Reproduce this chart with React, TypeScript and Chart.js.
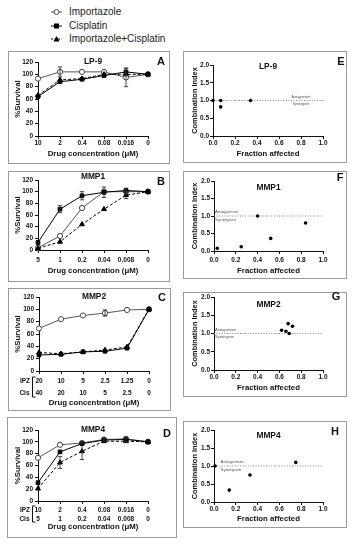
import React, { useEffect, useRef } from 'react';
import { Chart, registerables } from 'chart.js';
Chart.register(...registerables);

const FONT = '"Liberation Sans", Arial, Helvetica, sans-serif';

// ---------- DATA ----------
// Panel A: LP-9
const concA = ['10', '2', '0.4', '0.08', '0.016', '0'];
const ipzA = [93, 104, 104, 104, 95, 100];
const ipzErrA = [0, 8, 0, 0, 15, 0];
const cisA = [64, 88, 92, 98, 104, 100];
const cisErrA = [0, 0, 0, 0, 6, 0];
const comboA = [66, 91, 93, 100, 100, 100];
const comboErrA = [0, 0, 0, 0, 0, 0];

// Panel B: MMP1
const concB = ['5', '1', '0.2', '0.04', '0.008', '0'];
const ipzB = [4, 24, 72, 100, 100, 100];
const ipzErrB = [0, 0, 0, 0, 0, 0];
const cisB = [13, 70, 93, 99, 102, 100];
const cisErrB = [0, 6, 7, 9, 4, 0];
const comboB = [3, 14, 44, 70, 94, 100];
const comboErrB = [0, 0, 0, 0, 6, 0];

// Panel C: MMP2
const ipzConcC = ['20', '10', '5', '2.5', '1.25', '0'];
const cisConcC = ['40', '20', '10', '5', '2.5', '0'];
const ipzC = [69, 84, 90, 94, 99, 100];
const ipzErrC = [0, 0, 0, 5, 0, 0];
const cisC = [26, 27, 31, 32, 37, 100];
const cisErrC = [0, 0, 0, 0, 0, 0];
const comboC = [30, 28, 31, 34, 39, 100];
const comboErrC = [0, 0, 0, 0, 0, 0];

// Panel D: MMP4
const ipzConcD = ['10', '2', '0.4', '0.08', '0.016', '0'];
const cisConcD = ['5', '1', '0.2', '0.04', '0.008', '0'];
const ipzD = [73, 95, 98, 104, 105, 100];
const ipzErrD = [0, 0, 0, 3, 0, 0];
const cisD = [31, 83, 97, 103, 104, 100];
const cisErrD = [0, 0, 0, 0, 4, 0];
const comboD = [21, 65, 84, 101, 101, 100];
const comboErrD = [0, 10, 14, 0, 0, 0];

// Combination index panels (fraction affected, CI)
const faE = [0.0, 0.07, 0.07, 0.34];
const ciE = [1.0, 1.0, 0.82, 1.0];
const faF = [0.03, 0.25, 0.4, 0.52, 0.84];
const ciF = [0.08, 0.12, 1.0, 0.36, 0.8];
const faG = [0.62, 0.66, 0.68, 0.69, 0.72];
const ciG = [1.09, 1.06, 1.27, 1.0, 1.2];
const faH = [0.01, 0.14, 0.33, 0.75];
const ciH = [1.0, 0.33, 0.75, 1.1];

const survivalTicks = [0, 20, 40, 60, 80, 100, 120];
const ciTicks = [0, 0.5, 1.0, 1.5, 2.0];
const faTicks = [0, 0.2, 0.4, 0.6, 0.8, 1.0];

const legendNames = ['Importazole', 'Cisplatin', 'Importazole+Cisplatin'];

// ---------- LAYOUT ----------
type Rect = { l: number; t: number; w: number; h: number };
type Plot = { l: number; r: number; t: number; b: number };
type PanelCfg = {
  kind: 'line' | 'ci';
  box: Rect;
  plot: Plot;
  tickY: number;
  tickLH: number;
  titleY: number;
  yTitleX: number;
  title: string;
  titleAt: number;
  letter: string;
  letterAt: [number, number];
  build: () => any;
  rows?: boolean;
  rowGap?: number;
  bracket?: [number, number];
  ant?: { x: number; align: 'left' | 'center'; size: number };
};

const errorBars = {
  id: 'errorBars',
  afterDatasetsDraw(chart: any) {
    const ctx = chart.ctx;
    const ys = chart.scales.y;
    chart.data.datasets.forEach((ds: any, i: number) => {
      if (!ds.errors) return;
      const meta = chart.getDatasetMeta(i);
      meta.data.forEach((pt: any, j: number) => {
        const e = ds.errors[j];
        if (!e) return;
        const v = ds.data[j];
        const x = pt.x;
        const y1 = ys.getPixelForValue(v + e);
        const y2 = ys.getPixelForValue(v - e);
        ctx.save();
        ctx.strokeStyle = '#333';
        ctx.lineWidth = 0.9;
        ctx.beginPath();
        ctx.moveTo(x, y1); ctx.lineTo(x, y2);
        ctx.moveTo(x - 2.2, y1); ctx.lineTo(x + 2.2, y1);
        ctx.moveTo(x - 2.2, y2); ctx.lineTo(x + 2.2, y2);
        ctx.stroke();
        ctx.restore();
      });
    });
  },
};

function lineSets(ipz: number[], ipzE: number[], cis: number[], cisE: number[], combo: number[], comboE: number[]) {
  return [
    {
      label: legendNames[1], data: cis, errors: cisE, clip: false,
      borderColor: '#000', borderWidth: 1, pointStyle: 'rect', pointRadius: 2.6,
      pointBackgroundColor: '#000', pointBorderColor: '#000', pointBorderWidth: 1,
    },
    {
      label: legendNames[2], data: combo, errors: comboE, clip: false,
      borderColor: '#000', borderWidth: 1, borderDash: [3, 2], pointStyle: 'triangle', pointRadius: 2.8,
      pointBackgroundColor: '#000', pointBorderColor: '#000', pointBorderWidth: 1,
    },
    {
      label: legendNames[0], data: ipz, errors: ipzE, clip: false,
      borderColor: '#555', borderWidth: 1, pointStyle: 'circle', pointRadius: 2.6,
      pointBackgroundColor: '#fff', pointBorderColor: '#444', pointBorderWidth: 1,
    },
  ];
}

function ciSets(fa: number[], ci: number[]) {
  return [
    {
      label: 'CI', data: fa.map((x, i) => ({ x, y: ci[i] })), clip: false,
      showLine: false, pointRadius: 1.8, pointBackgroundColor: '#000', pointBorderColor: '#000', pointBorderWidth: 0,
    },
    {
      label: 'ref', data: [{ x: 0, y: 1 }, { x: 1, y: 1 }], clip: false,
      showLine: true, borderColor: '#777', borderWidth: 0.9, borderDash: [1, 1.6], pointRadius: 0,
    },
  ];
}

const panels: PanelCfg[] = [
  {
    kind: 'line', box: { l: 8, t: 51, w: 162, h: 113 }, plot: { l: 38, r: 148, t: 62, b: 136 },
    tickY: 143, tickLH: 1.2, titleY: 154, yTitleX: 18, title: 'LP-9', titleAt: 62, letter: 'A', letterAt: [161, 62],
    build: () => ({ labels: concA, datasets: lineSets(ipzA, ipzErrA, cisA, cisErrA, comboA, comboErrA) }),
  },
  {
    kind: 'line', box: { l: 8, t: 171, w: 162, h: 111 }, plot: { l: 38, r: 148, t: 180, b: 250 },
    tickY: 260, tickLH: 1.2, titleY: 271, yTitleX: 18, title: 'MMP1', titleAt: 177, letter: 'B', letterAt: [161, 182],
    build: () => ({ labels: concB, datasets: lineSets(ipzB, ipzErrB, cisB, cisErrB, comboB, comboErrB) }),
  },
  {
    kind: 'line', box: { l: 8, t: 288, w: 163, h: 123 }, plot: { l: 39, r: 149, t: 297, b: 371 },
    tickY: 381, tickLH: 1.85, titleY: 403, yTitleX: 18, title: 'MMP2', titleAt: 297, letter: 'C', letterAt: [162, 298],
    rows: true, rowGap: 12, bracket: [377, 397],
    build: () => ({ labels: ipzConcC.map((v, i) => [v, cisConcC[i]]), datasets: lineSets(ipzC, ipzErrC, cisC, cisErrC, comboC, comboErrC) }),
  },
  {
    kind: 'line', box: { l: 7, t: 417, w: 170, h: 121 }, plot: { l: 38, r: 148, t: 430, b: 501 },
    tickY: 510, tickLH: 1.35, titleY: 527, yTitleX: 18, title: 'MMP4', titleAt: 430, letter: 'D', letterAt: [167, 434],
    rows: true, rowGap: 8.8, bracket: [506, 522],
    build: () => ({ labels: ipzConcD.map((v, i) => [v, cisConcD[i]]), datasets: lineSets(ipzD, ipzErrD, cisD, cisErrD, comboD, comboErrD) }),
  },
  {
    kind: 'ci', box: { l: 183, t: 51, w: 164, h: 112 }, plot: { l: 213, r: 323, t: 65, b: 136 },
    tickY: 143, tickLH: 1.2, titleY: 154, yTitleX: 195, title: 'LP-9', titleAt: 67, letter: 'E', letterAt: [341, 62],
    ant: { x: 0.8, align: 'center', size: 3.6 },
    build: () => ({ datasets: ciSets(faE, ciE) }),
  },
  {
    kind: 'ci', box: { l: 183, t: 171, w: 164, h: 108 }, plot: { l: 214, r: 323, t: 181, b: 251 },
    tickY: 260, tickLH: 1.2, titleY: 271, yTitleX: 195, title: 'MMP1', titleAt: 188, letter: 'F', letterAt: [340, 178],
    ant: { x: 0.01, align: 'left', size: 4.4 },
    build: () => ({ datasets: ciSets(faF, ciF) }),
  },
  {
    kind: 'ci', box: { l: 183, t: 292, w: 164, h: 105 }, plot: { l: 214, r: 323, t: 297, b: 370 },
    tickY: 377, tickLH: 1.2, titleY: 388, yTitleX: 195, title: 'MMP2', titleAt: 305, letter: 'G', letterAt: [336, 297],
    ant: { x: 0.01, align: 'left', size: 4 },
    build: () => ({ datasets: ciSets(faG, ciG) }),
  },
  {
    kind: 'ci', box: { l: 183, t: 421, w: 164, h: 107 }, plot: { l: 214, r: 323, t: 430, b: 502 },
    tickY: 509, tickLH: 1.2, titleY: 519, yTitleX: 195, title: 'MMP4', titleAt: 436, letter: 'H', letterAt: [335, 432],
    ant: { x: 0.06, align: 'left', size: 4.4 },
    build: () => ({ datasets: ciSets(faH, ciH) }),
  },
];

const TICK_FS = 6.5;
const TITLE_FS = 7.8;
const TL = 3;

function decor(p: PanelCfg) {
  return {
    id: 'decor',
    afterDraw(chart: any) {
      const ctx = chart.ctx;
      const ca = chart.chartArea;
      ctx.save();
      ctx.fillStyle = '#111';
      ctx.textBaseline = 'middle';
      ctx.textAlign = 'center';
      ctx.font = `bold 8.4px ${FONT}`;
      ctx.fillText(p.title, (ca.left + ca.right) / 2, p.titleAt - p.box.t);
      ctx.font = `bold 11px ${FONT}`;
      ctx.fillText(p.letter, p.letterAt[0] - p.box.l, p.letterAt[1] - p.box.t);
      if (p.rows && p.bracket && p.rowGap) {
        ctx.font = `bold ${TICK_FS}px ${FONT}`;
        ctx.textAlign = 'right';
        const y1 = p.tickY - p.box.t;
        ctx.fillText('IPZ', 30 - p.box.l, y1);
        ctx.fillText('Cis', 29.5 - p.box.l, y1 + p.rowGap);
        ctx.strokeStyle = '#111';
        ctx.lineWidth = 1;
        const bx = 32.5 - p.box.l;
        ctx.beginPath();
        ctx.moveTo(bx + 3, p.bracket[0] - p.box.t);
        ctx.lineTo(bx, p.bracket[0] - p.box.t);
        ctx.lineTo(bx, p.bracket[1] - p.box.t);
        ctx.lineTo(bx + 3, p.bracket[1] - p.box.t);
        ctx.stroke();
      }
      if (p.ant) {
        const xs = chart.scales.x;
        const ys = chart.scales.y;
        const x = xs.getPixelForValue(p.ant.x);
        const y = ys.getPixelForValue(1);
        ctx.fillStyle = '#555';
        ctx.font = `${p.ant.size}px ${FONT}`;
        ctx.textAlign = p.ant.align;
        ctx.fillText('Antagonism', x, y - p.ant.size * 0.85);
        ctx.fillText('Synergism', x, y + p.ant.size * 0.85);
      }
      ctx.restore();
    },
  };
}

function axisCommon() {
  return {
    grid: { display: true, drawOnChartArea: false, drawTicks: true, tickLength: TL, color: '#111', lineWidth: 1 },
    border: { display: true, color: '#111', width: 1 },
  };
}

function buildConfig(p: PanelCfg) {
  const padTop = p.plot.t - p.box.t;
  const padRight = p.box.l + p.box.w - p.plot.r;
  const yWidth = p.plot.l - p.box.l;
  const xHeight = p.box.t + p.box.h - p.plot.b;
  const tickLHpx = TICK_FS * p.tickLH;
  const xTickPad = p.tickY - p.plot.b - TL - tickLHpx / 2;
  const titleLH = TITLE_FS * 1.2;
  const xTitlePadBottom = p.box.t + p.box.h - p.titleY - titleLH / 2;
  const yTitlePadTop = p.yTitleX - p.box.l - titleLH / 2;
  const tickFont = { family: FONT, size: TICK_FS, weight: 'bold' as const, lineHeight: p.tickLH };
  const titleFont = { family: FONT, size: TITLE_FS, weight: 'bold' as const, lineHeight: 1.2 };
  const isLine = p.kind === 'line';

  const xScale: any = {
    ...axisCommon(),
    afterFit: (s: any) => { s.height = xHeight; },
    ticks: {
      color: '#111', font: tickFont, padding: xTickPad, autoSkip: false, maxRotation: 0, minRotation: 0,
    },
    title: {
      display: true, text: isLine ? 'Drug concentration (μM)' : 'Fraction affected', color: '#111',
      font: titleFont, padding: { top: 0, bottom: xTitlePadBottom },
    },
  };
  if (isLine) {
    xScale.type = 'category';
    xScale.offset = false;
  } else {
    xScale.type = 'linear';
    xScale.min = faTicks[0];
    xScale.max = faTicks[faTicks.length - 1];
    xScale.afterBuildTicks = (s: any) => { s.ticks = faTicks.map((v) => ({ value: v })); };
    xScale.ticks.callback = (v: any) => Number(v).toFixed(1);
  }
  const yTicks = isLine ? survivalTicks : ciTicks;
  const yScale: any = {
    ...axisCommon(),
    type: 'linear',
    min: yTicks[0],
    max: yTicks[yTicks.length - 1],
    afterFit: (s: any) => { s.width = yWidth; },
    afterBuildTicks: (s: any) => { s.ticks = yTicks.map((v) => ({ value: v })); },
    ticks: {
      color: '#111', font: { family: FONT, size: TICK_FS, weight: 'bold' as const }, padding: isLine ? 2 : 1,
      callback: (v: any) => (isLine ? String(v) : Number(v).toFixed(1)),
    },
    title: {
      display: true, text: isLine ? '%Survival' : 'Combination Index', color: '#111',
      font: { ...titleFont, size: isLine ? TITLE_FS : 7.4 }, padding: { top: yTitlePadTop, bottom: 0 },
    },
  };

  return {
    type: isLine ? 'line' : 'scatter',
    data: p.build(),
    options: {
      responsive: false,
      animation: false,
      devicePixelRatio: 1,
      layout: { padding: { left: 0, top: padTop, right: padRight, bottom: 0 } },
      plugins: { legend: { display: false }, tooltip: { enabled: false }, title: { display: false } },
      elements: { line: { tension: 0 } },
      scales: { x: xScale, y: yScale },
    },
    plugins: [errorBars, decor(p)],
  };
}

function Panel({ p }: { p: PanelCfg }) {
  const ref = useRef<HTMLCanvasElement | null>(null);
  useEffect(() => {
    if (!ref.current) return;
    const chart = new Chart(ref.current, buildConfig(p) as any);
    return () => chart.destroy();
  }, [p]);
  return (
    <>
      <div
        style={{
          position: 'absolute', left: p.box.l, top: p.box.t, width: p.box.w, height: p.box.h,
          border: '1px solid #9a9a9a', boxSizing: 'border-box',
        }}
      />
      <canvas
        ref={ref}
        width={p.box.w}
        height={p.box.h}
        style={{ position: 'absolute', left: p.box.l, top: p.box.t, width: p.box.w, height: p.box.h }}
      />
    </>
  );
}

function LegendSymbol({ kind }: { kind: number }) {
  return (
    <svg width={12} height={10} style={{ position: 'absolute', left: 51, top: -5 }}>
      <line x1={0} y1={5} x2={11} y2={5} stroke={kind === 0 ? '#555' : '#000'} strokeWidth={1}
        strokeDasharray={kind === 2 ? '2 1.5' : undefined} />
      {kind === 0 && <circle cx={5.5} cy={5} r={2.5} fill="#fff" stroke="#444" strokeWidth={1} />}
      {kind === 1 && <rect x={3} y={2.5} width={5} height={5} fill="#000" />}
      {kind === 2 && <polygon points="5.5,2 8.5,7.5 2.5,7.5" fill="#000" />}
    </svg>
  );
}

function Legend() {
  const ys = [12, 25.5, 39];
  return (
    <>
      {legendNames.map((n, i) => (
        <div key={n} style={{ position: 'absolute', left: 0, top: ys[i], height: 0 }}>
          <LegendSymbol kind={i} />
          <span
            style={{
              position: 'absolute', left: 69, top: -7, fontFamily: FONT, fontSize: 10, lineHeight: '14px',
              color: '#222', whiteSpace: 'nowrap',
            }}
          >
            {n}
          </span>
        </div>
      ))}
    </>
  );
}

export default function App() {
  return (
    <div
      style={{
        position: 'fixed', left: 0, top: 0, width: 353, height: 550, background: '#fff', overflow: 'hidden',
      }}
    >
      <Legend />
      {panels.map((p) => (
        <Panel key={p.letter} p={p} />
      ))}
    </div>
  );
}
